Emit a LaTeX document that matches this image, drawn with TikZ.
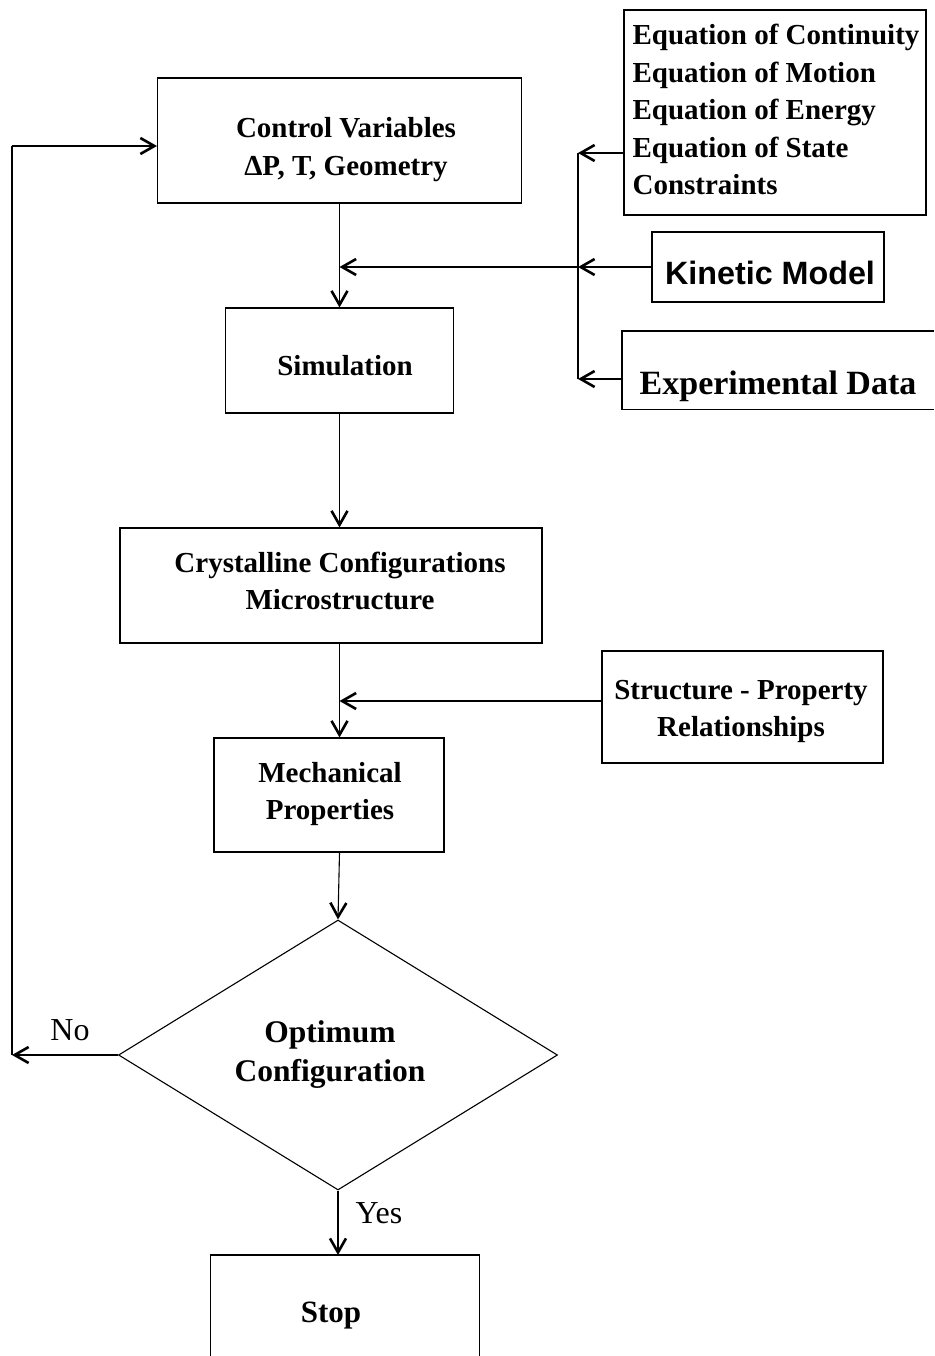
\documentclass[tikz,border=0pt]{standalone}
\usepackage{fontspec}
\setmainfont{Liberation Serif}
\newfontfamily\arialfont{Liberation Sans}
\usetikzlibrary{arrows.meta,shapes.geometric}

\begin{document}
\begin{tikzpicture}[x=1pt,y=-1pt,
  line width=1.1pt,
  arr/.style={-{Straight Barb[length=14pt,width=16pt,line width=2.6pt]}},
  box/.style={draw,rectangle,inner sep=0pt},
  txt/.style={inner sep=0pt,align=center,
    font=\fontsize{29}{37.5}\selectfont\bfseries},
  lbl/.style={inner sep=0pt,font=\fontsize{32}{38}\selectfont}]
\useasboundingbox (0,0) rectangle (934,1356);

% main column: frames
\node[box,minimum width=364,minimum height=125] (ctrl) at (339.5,140.5) {};
\node[box,minimum width=228,minimum height=105] (sim) at (339.5,360.5) {};
\node[box,minimum width=422,minimum height=115] (cryst) at (331,585.5) {};
\node[box,minimum width=230,minimum height=114] (mech) at (329,795) {};
\node[draw,diamond,minimum width=439,minimum height=270,inner sep=0pt] (dec) at (338,1055) {};
\node[inner sep=0pt,minimum width=268,minimum height=116,anchor=north] (stop) at (345,1255) {};
\coordinate (bot) at (0,1356);
\draw (stop.west |- bot) -- (stop.north west) -- (stop.north east) -- (stop.east |- bot);

% main column: texts
\node[txt] (ctrltxt) at (346,149.5) {Control Variables\\ΔP, T, Geometry};
\node[txt] (simtxt) at (345,365.5) {Simulation};
\node[txt] (crysttxt) at (340,581) {Crystalline Configurations\\Microstructure};
\node[txt] (mechtxt) at (330,794) {Mechanical\\Properties};
\node[txt,font=\fontsize{31.5}{39}\selectfont\bfseries] (dectxt) at (330,1055)
  {Optimum\\Configuration};
\node[txt,font=\fontsize{31}{38}\selectfont\bfseries] (stoptxt) at (331,1316) {Stop};

% inputs on the right
\node[box,minimum width=302,minimum height=205] (eq) at (775,112.5) {};
\node[txt,align=left] (eqtxt) at (776,109.5)
  {Equation of Continuity\\Equation of Motion\\Equation of Energy\\Equation of State\\Constraints};
\node[box,minimum width=232,minimum height=70] (kin) at (768,267) {};
\node[txt,font=\fontsize{32.3}{38}\selectfont\arialfont\bfseries] (kintxt) at (770,273) {Kinetic Model};
\node[inner sep=0pt,minimum width=312,minimum height=77,anchor=north west] (exp) at (622,331) {};
\node[txt,font=\fontsize{34}{40}\selectfont\bfseries] (exptxt) at (778,386) {Experimental Data};
\coordinate (redge) at (934,0);
\draw (exp.north west -| redge) -- (exp.north west) -- (exp.south west) -- (exp.south west -| redge);
\node[box,minimum width=281,minimum height=112] (struct) at (742.5,707) {};
\node[txt] (structtxt) at (741,711.5) {Structure - Property\\Relationships};

% input bus
\coordinate (bt) at (578,153);
\coordinate (bb) at (578,379);
\draw[arr] (bt -| eq.west) -- (bt);
\draw[arr] (kin.west) -- (kin.west -| bt);
\draw[arr] (bb -| exp.west) -- (bb);
\draw (bt) -- (bb);
\draw[arr] (kin.west -| bt) -- (kin.west -| ctrl.south);

% main flow
\draw[arr] (ctrl.south) -- (sim.north);
\draw[arr] (sim.south) -- (sim.south |- cryst.north);
\draw[arr] (sim.south |- cryst.south) -- (sim.south |- mech.north);
\draw[arr] ([yshift=6pt]struct.west) -- ([yshift=6pt]struct.west -| sim.south);
\draw[arr] (sim.south |- mech.south) -- (dec.north);
\draw[arr] (dec.south) -- (dec.south |- stop.north);

% feedback loop
\coordinate (fb) at (12,146);
\draw[arr] (dec.west) -- (dec.west -| fb);
\draw (dec.west -| fb) -- (fb);
\draw[arr] (fb) -- (fb -| ctrl.west);

\node[lbl] (no) at (70,1030) {No};
\node[lbl] (yes) at (379,1213) {Yes};
\end{tikzpicture}
\end{document}
